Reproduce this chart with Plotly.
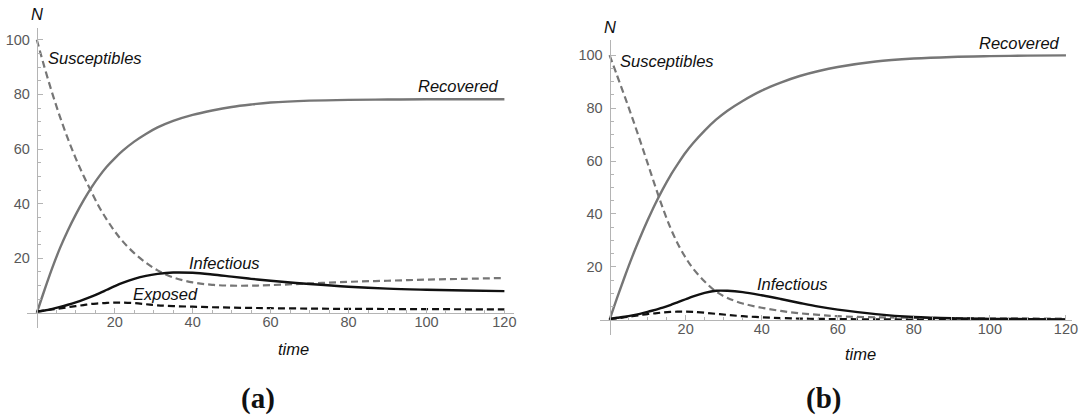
import plotly.graph_objects as go

# ---------------- data ----------------
t = [0, 2, 4, 6, 8, 10, 12, 14, 16, 18, 20, 22, 25, 28, 31, 35, 40, 45, 50,
     55, 60, 70, 80, 90, 100, 110, 120]

# panel (a)
a_susceptibles = [100, 89.8, 80.3, 71.6, 63.7, 56.6, 50.2, 44.4, 38.8, 34.1, 29.9,
                  26.3, 21.9, 18.4, 15.6, 13.0, 11.2, 10.3, 10.0, 10.0, 10.2, 10.8,
                  11.4, 11.8, 12.2, 12.5, 12.8]
a_recovered = [0, 8.5, 16.6, 23.9, 30.3, 36.0, 41.2, 45.9, 50.0, 53.6, 56.6, 59.3,
               62.7, 65.5, 67.9, 70.3, 72.5, 74.1, 75.4, 76.3, 77.0, 77.7, 78.0,
               78.1, 78.2, 78.2, 78.2]
a_infectious = [0.5, 0.9, 1.5, 2.2, 3.0, 3.9, 4.9, 6.0, 7.2, 8.5, 9.8, 11.0, 12.5,
                13.6, 14.3, 14.8, 14.7, 14.1, 13.3, 12.5, 11.8, 10.6, 9.6, 8.9,
                8.5, 8.2, 8.0]
a_exposed = [0.5, 0.9, 1.3, 1.7, 2.1, 2.5, 2.9, 3.3, 3.5, 3.7, 3.8, 3.8, 3.6, 3.2,
             2.8, 2.5, 2.3, 2.1, 1.95, 1.85, 1.75, 1.6, 1.5, 1.45, 1.4, 1.35, 1.3]

# panel (b)
b_susceptibles = [100, 92.2, 84.3, 76.2, 67.8, 59.2, 50.5, 42.2, 34.8, 28.6, 23.5,
                  19.3, 14.5, 10.7, 8.3, 6.2, 4.6, 3.4, 2.5, 1.9, 1.4, 1.0, 0.8,
                  0.7, 0.6, 0.55, 0.5]
b_recovered = [0, 8.4, 16.4, 24, 31, 37.6, 43.8, 49.4, 54.5, 59, 63.2, 66.8, 71.5,
               75.6, 79, 82.7, 86.6, 89.6, 92.1, 94, 95.5, 97.6, 98.7, 99.3, 99.6,
               99.8, 99.9]
b_infectious = [0.4, 0.8, 1.2, 1.7, 2.3, 3.0, 3.8, 4.6, 5.6, 6.7, 7.8, 8.9, 10.2,
                11.0, 11.0, 10.5, 9.3, 7.9, 6.4, 5.0, 3.9, 2.2, 1.1, 0.6, 0.4, 0.3, 0.2]
b_exposed = [0.3, 0.6, 1, 1.4, 1.8, 2.2, 2.5, 2.8, 3.0, 3.1, 3.1, 3.0, 2.7, 2.3, 1.9,
             1.4, 1.0, 0.7, 0.5, 0.4, 0.3, 0.2, 0.15, 0.12, 0.1, 0.1, 0.1]

x_ticks = [20, 40, 60, 80, 100, 120]
y_ticks = [20, 40, 60, 80, 100]

# ---------------- geometry ----------------
W, H = 1087, 417
panels = {
    "a": dict(xdom=(27 / W, 517 / W), ydom=(1 - 328 / H, 1 - 27.7 / H),
              xr=(-2.55, 122.5), yr=(-5.5, 104.4)),
    "b": dict(xdom=(603 / W, 1078 / W), ydom=(1 - 335 / H, 1 - 40 / H),
              xr=(-2.6, 121.6), yr=(-5.7, 105.7)),
}


def zero_pos(dom, rng):
    """Paper coordinate of the data value 0 along an axis."""
    return dom[0] + (0 - rng[0]) / (rng[1] - rng[0]) * (dom[1] - dom[0])


GRAY = "#767676"
BLACK = "#111111"
AXIS = "#b4b4b4"
TICKFONT = dict(family="Liberation Sans, Arial, sans-serif", size=14.5, color="#595959")
LABELFONT = dict(family="Liberation Sans, Arial, sans-serif", size=16.5, color="#111111")
DASH = "7px,4px"

fig = go.Figure()

series = {
    "a": (a_susceptibles, a_recovered, a_infectious, a_exposed),
    "b": (b_susceptibles, b_recovered, b_infectious, b_exposed),
}
axis_ids = {"a": ("x", "y"), "b": ("x2", "y2")}

for key, (s, r, i, e) in series.items():
    xa, ya = axis_ids[key]
    styles = [
        ("Susceptibles", s, GRAY, DASH, 2.2),
        ("Recovered", r, GRAY, "solid", 2.4),
        ("Infectious", i, BLACK, "solid", 2.4),
        ("Exposed", e, BLACK, DASH, 2.2),
    ]
    for name, vals, col, dash, w in styles:
        fig.add_trace(go.Scatter(
            x=t, y=vals, mode="lines", name=name, xaxis=xa, yaxis=ya,
            line=dict(color=col, width=w, dash=dash, shape="spline", smoothing=1.0),
            showlegend=False, hoverinfo="skip",
        ))

layout_axes = {}
for key, (xa, ya) in axis_ids.items():
    p = panels[key]
    xname = "xaxis" if xa == "x" else "xaxis" + xa[1:]
    yname = "yaxis" if ya == "y" else "yaxis" + ya[1:]
    layout_axes[xname] = dict(
        domain=p["xdom"], range=p["xr"], anchor="free",
        position=zero_pos(p["ydom"], p["yr"]),
        showgrid=False, zeroline=False, showline=True, linecolor=AXIS, linewidth=1,
        tickmode="array", tickvals=x_ticks, ticks="inside", ticklen=5,
        tickcolor=AXIS, tickwidth=1, tickfont=TICKFONT, ticklabelstandoff=-4,
        minor=dict(tickmode="array", tickvals=[v for v in range(5, 121, 5) if v % 20],
                   ticks="inside", ticklen=3, tickcolor=AXIS, tickwidth=1),
    )
    layout_axes[yname] = dict(
        domain=p["ydom"], range=p["yr"], anchor="free",
        position=zero_pos(p["xdom"], p["xr"]),
        showgrid=False, zeroline=False, showline=True, linecolor=AXIS, linewidth=1,
        tickmode="array", tickvals=y_ticks, ticks="inside", ticklen=5,
        tickcolor=AXIS, tickwidth=1, tickfont=TICKFONT, ticklabelstandoff=4,
        minor=dict(tickmode="array", tickvals=[v for v in range(5, 101, 5) if v % 20],
                   ticks="inside", ticklen=3, tickcolor=AXIS, tickwidth=1),
    )

ann = []


def label(text, x, y, xa, ya, xanchor="left", font=LABELFONT, yshift=0):
    ann.append(dict(text=f"<i>{text}</i>", x=x, y=y, xref=xa, yref=ya,
                    xanchor=xanchor, yanchor="middle", showarrow=False,
                    font=font, yshift=yshift))


# curve labels, panel (a)
label("Susceptibles", 2.3, 93.4, "x", "y")
label("Recovered", 119, 82.9, "x", "y", xanchor="right")
label("Infectious", 38.5, 18.3, "x", "y")
label("Exposed", 24.2, 7.0, "x", "y")
# curve labels, panel (b)
label("Susceptibles", 2.3, 97.8, "x2", "y2")
label("Recovered", 96.7, 104.6, "x2", "y2")
label("Infectious", 38.2, 13.5, "x2", "y2")

# axis titles
label("N", 0, 104.4, "x", "y", xanchor="center", yshift=14)
label("N", 0, 105.7, "x2", "y2", xanchor="center", yshift=13)
label("time", 65.9, 0, "x", "y", xanchor="center", yshift=-36)
label("time", 66.1, 0, "x2", "y2", xanchor="center", yshift=-34)

# panel captions
for cap, cx in (("(a)", 259), ("(b)", 828)):
    ann.append(dict(text=f"<b>{cap}</b>", x=cx / W, y=1 - 398 / H, xref="paper",
                    yref="paper", xanchor="center", yanchor="middle", showarrow=False,
                    font=dict(family="Liberation Serif, Times New Roman, serif",
                              size=29, color="#111111")))

fig.update_layout(
    width=W, height=H, margin=dict(l=0, r=0, t=0, b=0),
    paper_bgcolor="white", plot_bgcolor="white",
    annotations=ann, showlegend=False,
    **layout_axes,
)

fig.write_html("out.html")
